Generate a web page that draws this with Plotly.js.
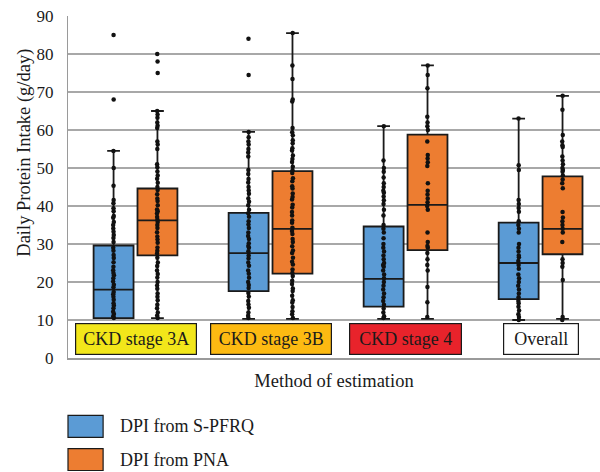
<!DOCTYPE html>
<html>
<head>
<meta charset="utf-8">
<script src="https://cdn.plot.ly/plotly-3.0.1.min.js"></script>
<style>html,body{margin:0;padding:0;background:#fff;}#chart{width:600px;height:472px;}</style>
</head>
<body>
<div id="chart"></div>
<script>
// ---- data ----
var categories = ['CKD stage 3A', 'CKD stage 3B', 'CKD stage 4', 'Overall'];
var seriesNames = ['DPI from S-PFRQ', 'DPI from PNA'];
var xTitle = 'Method of estimation';
var yTitle = 'Daily Protein Intake (g/day)';

// box statistics
var spfrqQ1 = [10.5, 17.6, 13.5, 15.5];
var spfrqMedian = [18, 27.6, 20.8, 25];
var spfrqQ3 = [29.6, 38.2, 34.6, 35.6];
var spfrqLower = [10.5, 10.3, 10.3, 10];
var spfrqUpper = [54.5, 59.5, 61, 63];

var pnaQ1 = [27, 22.2, 28.4, 27.3];
var pnaMedian = [36.2, 34, 40.3, 34];
var pnaQ3 = [44.6, 49.2, 58.8, 47.8];
var pnaLower = [10.5, 10.3, 10.3, 10.3];
var pnaUpper = [65, 85.5, 77, 69];

// individual observations (read approximately)
var spfrq3A = [85, 68, 54.5, 50, 45.3, 41.6, 40.7, 39.4, 38.6, 37.4, 36.9, 35.8, 35, 34.1, 33.2, 32.4, 31.6, 30.5, 29, 28.2, 27.1, 26.3, 25.2, 24, 23.1, 22.4, 21.8, 21, 20.1, 19.3, 18.6, 17.4, 16.8, 16.1, 15.3, 14.4, 13.8, 13.1, 12.2, 11.6, 11, 10.5];
var pna3A = [80, 78, 75, 65, 64.1, 63.2, 62, 61.1, 60.5, 57, 56.2, 55, 51, 50.2, 49.1, 48, 47.2, 46.1, 45, 44.2, 43.1, 42, 41.3, 40.2, 39.1, 38.6, 38, 37.1, 36.4, 35.8, 35, 34.2, 33.1, 32, 31.2, 30.3, 29.1, 28.2, 27.5, 26.4, 25.1, 24.2, 23, 22.1, 21.2, 20, 19.1, 18.2, 17, 16.1, 15.2, 14, 13.1, 12, 11.2, 10.5];
var spfrq3B = [84, 74.5, 59.5, 58.1, 57, 56.2, 55, 54.1, 53, 49.5, 48.4, 47.1, 46.2, 45, 44.1, 43.2, 42, 41.1, 40.2, 39, 38.1, 37.2, 36, 35.1, 34.2, 33, 32.1, 31.3, 30.2, 29.5, 29, 28.1, 27, 26.2, 25.1, 24.3, 23, 22.2, 21.1, 20, 19.2, 18.4, 17.1, 16.2, 15, 14.1, 13.2, 12, 11.1, 10.5];
var pna3B = [85.5, 77, 73.4, 68, 67.5, 60.5, 59.4, 58.6, 57.3, 56.5, 55.2, 54.6, 53.3, 52.4, 51.6, 50.3, 49.4, 48.7, 47.3, 46.5, 45.2, 44.6, 43.3, 42.4, 41.7, 40.3, 39.6, 38.4, 37.5, 36.2, 35.6, 34.3, 33.4, 32.6, 31.3, 30.5, 29.4, 28.3, 27.6, 26.4, 25.3, 24.6, 23.3, 22.4, 21.6, 20.3, 19.5, 18.3, 17.6, 16.4, 15.2, 14.6, 13.4, 12.3, 11.5, 10.5];
var spfrq4 = [61, 52, 50, 49, 47.5, 46, 45, 44, 43.5, 42.5, 41.5, 40.5, 39, 37.5, 35, 34, 33, 31.5, 30, 29, 28, 27, 26, 25, 24.5, 24, 23, 22, 21, 20, 19, 18, 17, 16, 15, 14, 13, 12, 11, 10.5];
var pna4 = [77, 74.5, 71, 63.5, 62, 61, 60, 57, 53.4, 52.5, 51.5, 50.5, 46, 44, 43, 42, 41, 40, 39, 33, 30.5, 29.5, 29, 27.6, 26, 24.5, 23, 18.7, 14.7, 10.8];
var spfrqAll = [63, 50.7, 49.5, 41.6, 40.5, 39.5, 38.5, 36, 35, 34, 33, 30, 29, 28, 27, 26.5, 25.5, 24.5, 23.5, 22, 21, 20, 19, 18, 17, 16, 15, 14.4, 13.5, 12.5, 11.5, 10.8, 10];
var pnaAll = [69, 65.3, 58.7, 57, 56, 55.5, 53, 52, 51, 50, 49.5, 49, 48, 47, 46, 44.7, 38.4, 37, 36, 35, 34, 33, 30.5, 26, 25, 24, 20.5, 10.8, 10];

var spfrqPoints = [spfrq3A, spfrq3B, spfrq4, spfrqAll];
var pnaPoints = [pna3A, pna3B, pna4, pnaAll];

// ---- styles ----
var SERIF = 'Liberation Serif, DejaVu Serif, serif';
var BLUE = '#5B9BD5';
var ORANGE = '#ED7D31';
var labelColors = ['#F2E61A', '#FDBA12', '#E8232B', '#FFFFFF'];
var labelWidths = [114, 114, 105, 68];

function flatten(pointSets) {
  var xs = [], ys = [];
  pointSets.forEach(function (arr, i) {
    arr.forEach(function (v) { xs.push(categories[i]); ys.push(v); });
  });
  return {x: xs, y: ys};
}

function statTrace(name, color, q1, med, q3, lo, hi, group) {
  return {
    type: 'box', name: name, x: categories,
    q1: q1, median: med, q3: q3, lowerfence: lo, upperfence: hi,
    boxpoints: false, fillcolor: color,
    line: {color: '#1a1a1a', width: 1.8},
    whiskerwidth: 0.32,
    offsetgroup: group, showlegend: false, hoverinfo: 'skip'
  };
}

function pointTrace(name, pts, group) {
  var f = flatten(pts);
  return {
    type: 'box', name: name, x: f.x, y: f.y,
    boxpoints: 'all', pointpos: 0, jitter: 0.025,
    fillcolor: 'rgba(0,0,0,0)',
    line: {color: 'rgba(0,0,0,0)', width: 0},
    marker: {color: '#111', size: 4.5, line: {width: 0}},
    offsetgroup: group, showlegend: false
  };
}

var data = [
  statTrace(seriesNames[0], BLUE, spfrqQ1, spfrqMedian, spfrqQ3, spfrqLower, spfrqUpper, 'a'),
  statTrace(seriesNames[1], ORANGE, pnaQ1, pnaMedian, pnaQ3, pnaLower, pnaUpper, 'b'),
  pointTrace(seriesNames[0], spfrqPoints, 'a'),
  pointTrace(seriesNames[1], pnaPoints, 'b')
];

var annotations = categories.map(function (c, i) {
  return {
    x: c, y: 5.1, xref: 'x', yref: 'y', text: c, showarrow: false,
    font: {family: SERIF, size: 18, color: '#1a1a1a'},
    bgcolor: labelColors[i], bordercolor: '#1a1a1a', borderwidth: 1.2,
    borderpad: 3, width: labelWidths[i], height: 24, align: 'center'
  };
});

// y-axis title (placed like the original, above the plot centre)
annotations.push({xref: 'paper', yref: 'paper', x: -0.081, y: 0.6, textangle: -90,
  xanchor: 'center', yanchor: 'middle', text: yTitle, showarrow: false,
  font: {family: SERIF, size: 18.5, color: '#1a1a1a'}});

// legend (drawn as shapes + text)
var legendColors = [BLUE, ORANGE];
var legendY = [-0.2, -0.297];
var shapes = [];
seriesNames.forEach(function (n, i) {
  shapes.push({type: 'rect', xref: 'paper', yref: 'paper',
    x0: 0, x1: 0.066, y0: legendY[i] - 0.032, y1: legendY[i] + 0.032,
    fillcolor: legendColors[i], line: {color: '#1a1a1a', width: 1.2}});
  annotations.push({xref: 'paper', yref: 'paper', x: 0.094, y: legendY[i],
    xanchor: 'left', yanchor: 'middle', text: n, showarrow: false,
    font: {family: SERIF, size: 18, color: '#1a1a1a'}});
});

var layout = {
  width: 600, height: 472,
  margin: {l: 68, r: 0, t: 16, b: 114},
  paper_bgcolor: '#fff', plot_bgcolor: '#fff',
  boxmode: 'group', boxgap: 0.35, boxgroupgap: 0.09,
  showlegend: false,
  font: {family: SERIF, color: '#1a1a1a'},
  xaxis: {
    type: 'category', range: [-0.5, 3.44],
    showticklabels: false, ticks: '', showgrid: false, zeroline: false,
    showline: true, linecolor: '#9a9a9a', linewidth: 2,
    title: {text: xTitle, font: {family: SERIF, size: 18.5, color: '#1a1a1a'}, standoff: 15}
  },
  yaxis: {
    range: [0, 90], dtick: 10, tick0: 0,
    showgrid: true, gridcolor: '#a8a8a8', gridwidth: 1.5,
    zeroline: false, showline: true, linecolor: '#9a9a9a', linewidth: 1,
    ticks: '', ticklabelstandoff: 10,
    tickfont: {family: SERIF, size: 17, color: '#1a1a1a'}
  },
  annotations: annotations,
  shapes: shapes
};

Plotly.newPlot('chart', data, layout, {displayModeBar: false, staticPlot: true});
</script>
</body>
</html>
